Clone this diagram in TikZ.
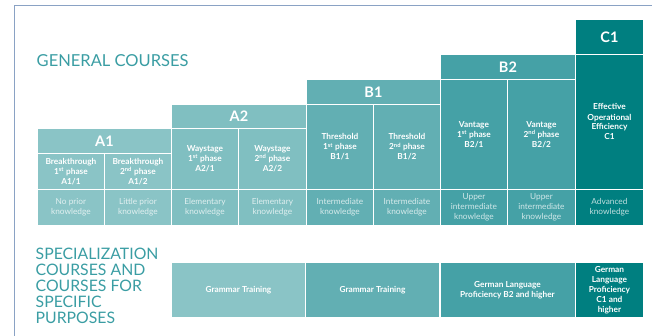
\documentclass[tikz,border=0pt]{standalone}
\usepackage{fontspec}
\setmainfont{Lato}
\definecolor{frameblue}{HTML}{8AA2C4}
\definecolor{titleteal}{HTML}{3A9DA3}
\definecolor{tealA}{HTML}{8AC4C6}
\definecolor{tealAA}{HTML}{80BFC1}
\definecolor{tealB}{HTML}{62AFB3}
\definecolor{tealBB}{HTML}{45A1A6}
\definecolor{tealC}{HTML}{007F80}
\begin{document}
\begin{tikzpicture}[x=1pt,y=-1pt,
    box/.style={draw=white,line width=0.9pt,anchor=north west,inner sep=0pt,align=center,
      text=white,font=\bfseries\fontsize{8.3}{10}\selectfont},
    head/.style={box,font=\bfseries\fontsize{14.5}{14.5}\selectfont},
    know/.style={box,font=\fontsize{8.3}{10}\selectfont,text opacity=0.75},
    title/.style={inner sep=0pt,text=titleteal,font=\fontsize{16.5}{16}\selectfont}]
  \useasboundingbox (0,0) rectangle (652,336);
  \draw[frameblue,line width=1pt] (652,6) -- (14,6) -- (14,336);

  \node[title,anchor=base west] (general) at (36.5,66.5) {GENERAL COURSES};
  \node[title,anchor=north west,align=left,font=\fontsize{15.8}{16}\selectfont] (special) at (35.5,247.5)
    {SPECIALIZATION\\COURSES AND\\COURSES FOR\\SPECIFIC\\PURPOSES};

  % level headers
  \node[head,fill=tealA,minimum width=134pt,minimum height=25pt] (a1) at (37,128) {A1};
  \node[head,fill=tealAA,minimum width=135pt,minimum height=24pt] (a2) at (171,104) {A2};
  \node[head,fill=tealB,minimum width=134pt,minimum height=25pt] (b1) at (306,79) {B1};
  \node[head,fill=tealBB,minimum width=135pt,minimum height=25pt] (b2) at (440,54) {B2};
  \node[head,fill=tealC,minimum width=68pt,minimum height=35pt] (c1) at (575,19) {C1};

  % phases
  \node[box,fill=tealA,minimum width=67pt,minimum height=36pt] (a11) at (37,153)
    {Breakthrough\\1\textsuperscript{st} phase\\A1/1};
  \node[box,fill=tealA,minimum width=67pt,minimum height=36pt] (a12) at (104,153)
    {Breakthrough\\2\textsuperscript{nd} phase\\A1/2};
  \node[box,fill=tealAA,minimum width=67pt,minimum height=61pt] (a21) at (171,128)
    {Waystage\\1\textsuperscript{st} phase\\A2/1};
  \node[box,fill=tealAA,minimum width=68pt,minimum height=61pt] (a22) at (238,128)
    {Waystage\\2\textsuperscript{nd} phase\\A2/2};
  \node[box,fill=tealB,minimum width=67pt,minimum height=85pt] (b11) at (306,104)
    {Threshold\\1\textsuperscript{st} phase\\B1/1};
  \node[box,fill=tealB,minimum width=67pt,minimum height=85pt] (b12) at (373,104)
    {Threshold\\2\textsuperscript{nd} phase\\B1/2};
  \node[box,fill=tealBB,minimum width=67pt,minimum height=110pt] (b21) at (440,79)
    {Vantage\\1\textsuperscript{st} phase\\B2/1};
  \node[box,fill=tealBB,minimum width=68pt,minimum height=110pt] (b22) at (507,79)
    {Vantage\\2\textsuperscript{nd} phase\\B2/2};
  \node[box,fill=tealC,minimum width=68pt,minimum height=135pt] (c11) at (575,54)
    {Effective\\Operational\\Efficiency\\C1};

  % prior knowledge
  \node[know,fill=tealA,minimum width=67pt,minimum height=36pt] (k1) at (37,189) {No prior\\knowledge};
  \node[know,fill=tealA,minimum width=67pt,minimum height=36pt] (k2) at (104,189) {Little prior\\knowledge};
  \node[know,fill=tealAA,minimum width=67pt,minimum height=36pt] (k3) at (171,189) {Elementary\\knowledge};
  \node[know,fill=tealAA,minimum width=68pt,minimum height=36pt] (k4) at (238,189) {Elementary\\knowledge};
  \node[know,fill=tealB,minimum width=67pt,minimum height=36pt] (k5) at (306,189) {Intermediate\\knowledge};
  \node[know,fill=tealB,minimum width=67pt,minimum height=36pt] (k6) at (373,189) {Intermediate\\knowledge};
  \node[know,fill=tealBB,minimum width=67pt,minimum height=36pt] (k7) at (440,189) {Upper\\intermediate\\knowledge};
  \node[know,fill=tealBB,minimum width=68pt,minimum height=36pt] (k8) at (507,189) {Upper\\intermediate\\knowledge};
  \node[know,fill=tealC,minimum width=68pt,minimum height=36pt] (k9) at (575,189) {Advanced\\knowledge};

  % specialization courses
  \node[box,fill=tealA,minimum width=134pt,minimum height=55pt] (s1) at (171,262) {Grammar Training};
  \node[box,fill=tealB,minimum width=134pt,minimum height=55pt] (s2) at (305,262) {Grammar Training};
  \node[box,fill=tealBB,minimum width=135pt,minimum height=55pt] (s3) at (439.5,262)
    {German Language\\Proficiency B2 and higher};
  \node[box,fill=tealC,minimum width=68pt,minimum height=55pt] (s4) at (575,262)
    {German\\Language\\Proficiency\\C1 and\\higher};
\end{tikzpicture}
\end{document}
